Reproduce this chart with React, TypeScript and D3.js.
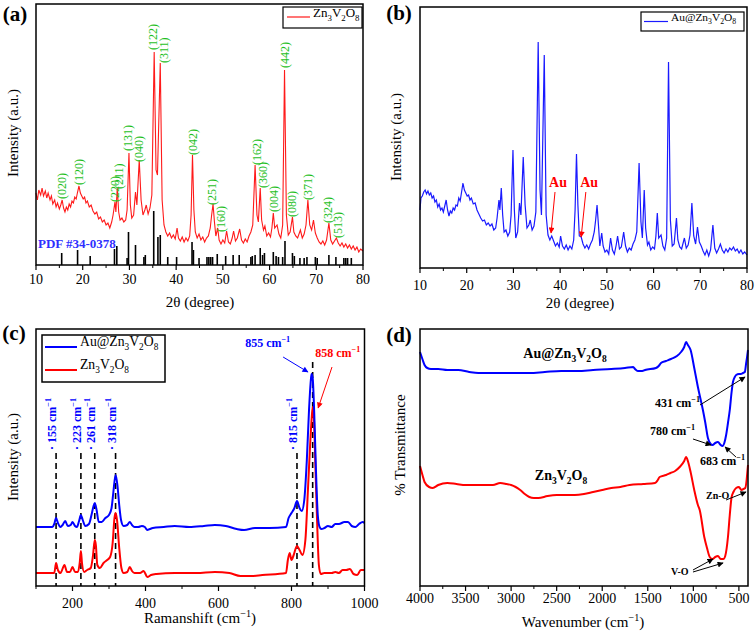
import React from 'react';
import * as d3 from 'd3';

const FONT = '"Liberation Serif","Times New Roman",Times,serif';

// ---------- Panel (a): Zn3V2O8 XRD (2θ, intensity a.u.) ----------
const xrdZn: [number, number][] = [
  [10.0, 72], [10.3, 65], [10.6, 75], [11.0, 70], [11.3, 77], [11.6, 69], [12.0, 74], [12.3, 67], [12.6, 72],
  [13.0, 65], [13.3, 69], [13.6, 61], [14.0, 65], [14.3, 58], [14.6, 62], [15.0, 56], [15.3, 60], [15.6, 65],
  [15.9, 57], [16.2, 53], [16.5, 58], [16.8, 55], [17.1, 61], [17.4, 58], [17.7, 64], [18.0, 62], [18.3, 68],
  [18.6, 66], [18.9, 73], [19.2, 79], [19.5, 72], [19.8, 69], [20.1, 66], [20.4, 68], [20.7, 62], [21.0, 64],
  [21.4, 58], [21.8, 60], [22.2, 54], [22.6, 51], [23.0, 53], [23.4, 46], [23.8, 48], [24.2, 43], [24.6, 45],
  [25.0, 40], [25.4, 42], [25.8, 37], [26.2, 43], [26.5, 50], [26.9, 63], [27.1, 53], [27.4, 77], [27.7, 53],
  [28.0, 45], [28.4, 47], [28.8, 43], [29.2, 45], [29.5, 55], [29.9, 112], [30.2, 60], [30.5, 47], [30.9, 50],
  [31.3, 73], [31.6, 60], [32.1, 105], [32.5, 65], [32.9, 50], [33.3, 55], [33.6, 60], [34.0, 51], [34.4, 57],
  [34.8, 70], [35.3, 213], [35.7, 95], [36.0, 90], [36.6, 202], [37.0, 65], [37.4, 40], [37.8, 33], [38.2, 29],
  [38.6, 32], [39.0, 27], [39.4, 30], [39.8, 26], [40.2, 37], [40.5, 27], [40.9, 24], [41.3, 28], [41.7, 23],
  [42.1, 27], [42.5, 24], [42.9, 29], [43.2, 50], [43.5, 110], [43.8, 55], [44.1, 33], [44.5, 27], [44.9, 31],
  [45.3, 25], [45.7, 28], [46.1, 23], [46.5, 27], [46.9, 29], [47.3, 37], [47.6, 50], [47.9, 61], [48.2, 43],
  [48.5, 29], [48.9, 37], [49.2, 25], [49.6, 21], [50.0, 25], [50.4, 22], [50.8, 34], [51.2, 23], [51.6, 21],
  [52.0, 27], [52.3, 34], [52.7, 24], [53.1, 27], [53.6, 36], [54.0, 25], [54.4, 22], [54.8, 26], [55.2, 23],
  [55.6, 29], [56.0, 33], [56.4, 40], [56.9, 100], [57.3, 50], [57.6, 43], [58.0, 77], [58.3, 45], [58.7, 35],
  [59.0, 39], [59.4, 29], [59.8, 32], [60.2, 28], [60.5, 37], [60.8, 52], [61.1, 37], [61.6, 40], [62.0, 31],
  [62.4, 27], [62.8, 40], [63.2, 195], [63.6, 50], [64.0, 30], [64.4, 33], [64.9, 48], [65.2, 33], [65.6, 29],
  [66.0, 27], [66.6, 35], [67.0, 27], [67.4, 31], [67.8, 40], [68.2, 65], [68.6, 40], [69.0, 35], [69.4, 45],
  [69.8, 32], [70.2, 27], [70.6, 23], [71.0, 21], [71.4, 24], [71.8, 20], [72.2, 25], [72.7, 42], [73.1, 25],
  [73.5, 21], [73.9, 24], [74.3, 27], [74.7, 22], [75.1, 19], [75.5, 22], [75.9, 18], [76.3, 21], [76.7, 17],
  [77.1, 20], [77.5, 16], [77.9, 19], [78.3, 15], [78.7, 18], [79.1, 13], [79.5, 16], [80.0, 14],
];

// PDF #34-0378 reference lines (2θ, relative height)
const pdfRef: [number, number][] = [
  [15.5, 12], [18.9, 15], [21.6, 9], [26.8, 16], [27.3, 19], [29.5, 7], [29.8, 33], [31.3, 20], [33.1, 8],
  [33.4, 10], [35.2, 54], [36.1, 28], [36.6, 30], [38.2, 8], [40.1, 8], [43.4, 23], [43.7, 15], [44.9, 7],
  [46.6, 8], [47.0, 8], [47.4, 8], [47.8, 8], [48.8, 11], [50.6, 9], [52.2, 10], [53.5, 10], [56.0, 8],
  [56.3, 9], [56.9, 10], [58.0, 17], [58.5, 10], [58.9, 12], [60.8, 13], [61.4, 9], [61.9, 8], [62.8, 8],
  [63.3, 24], [64.9, 12], [65.3, 9], [66.5, 7], [67.4, 7], [68.0, 8], [69.8, 8], [70.2, 7], [72.7, 10],
  [74.2, 8], [75.9, 7], [76.3, 7], [76.7, 7], [77.5, 7],
];

// hkl labels: [text, 2θ, intensity at label foot]
const hklLabels: [string, number, number][] = [
  ['(020)', 15.6, 66], ['(120)', 19.2, 80], ['(220)', 26.8, 63], ['(211)', 27.8, 76], ['(131)', 29.7, 114],
  ['(040)', 31.9, 103], ['(122)', 35.1, 215], ['(311)', 37.3, 202], ['(042)', 43.55, 110], ['(251)', 47.7, 60],
  ['(160)', 49.6, 33], ['(162)', 57.3, 100], ['(360)', 58.6, 77], ['(004)', 61.0, 53], ['(442)', 63.3, 197],
  ['(080)', 64.8, 48], ['(371)', 68.2, 65], ['(324)', 72.5, 42], ['(513)', 74.7, 27],
];

// ---------- Panel (b): Au@Zn3V2O8 XRD ----------
const xrdAu: [number, number][] = [
  [10.0, 58], [10.2, 70], [10.5, 72], [10.8, 76], [11.1, 78], [11.4, 74], [11.7, 77], [12.0, 73], [12.3, 75],
  [12.6, 70], [12.9, 72], [13.2, 66], [13.5, 68], [13.8, 61], [14.1, 64], [14.4, 58], [14.7, 60], [15.0, 56],
  [15.3, 62], [15.6, 68], [15.9, 58], [16.2, 52], [16.5, 57], [16.8, 55], [17.1, 60], [17.4, 58], [17.7, 63],
  [18.0, 62], [18.3, 70], [18.6, 67], [18.9, 76], [19.2, 85], [19.5, 78], [19.8, 75], [20.1, 72], [20.4, 73],
  [20.7, 68], [21.0, 70], [21.4, 64], [21.8, 65], [22.2, 58], [22.6, 54], [23.0, 50], [23.4, 47], [23.8, 48],
  [24.2, 43], [24.6, 45], [25.0, 42], [25.4, 44], [25.8, 38], [26.2, 40], [26.5, 50], [26.9, 68], [27.1, 58],
  [27.4, 80], [27.7, 53], [28.0, 36], [28.4, 38], [28.8, 32], [29.2, 36], [29.5, 53], [29.9, 118], [30.2, 58],
  [30.5, 30], [30.9, 36], [31.3, 65], [31.6, 53], [32.1, 111], [32.5, 63], [32.9, 40], [33.3, 43], [33.6, 48],
  [34.0, 38], [34.4, 42], [34.8, 56], [35.3, 226], [35.7, 78], [36.0, 53], [36.6, 213], [37.0, 53], [37.4, 33],
  [37.8, 28], [38.2, 32], [38.6, 27], [39.0, 22], [39.4, 25], [39.8, 21], [40.1, 32], [40.5, 22], [40.9, 19],
  [41.3, 23], [41.7, 18], [42.1, 22], [42.5, 19], [42.9, 28], [43.2, 58], [43.5, 114], [43.8, 63], [44.1, 32],
  [44.5, 31], [44.9, 24], [45.3, 20], [45.7, 23], [46.1, 19], [46.5, 24], [46.9, 28], [47.3, 36], [47.6, 48],
  [47.9, 63], [48.2, 43], [48.5, 22], [48.9, 35], [49.2, 22], [49.6, 16], [50.0, 18], [50.4, 14], [50.8, 30],
  [51.2, 18], [51.6, 14], [52.0, 23], [52.3, 32], [52.7, 19], [53.1, 21], [53.6, 36], [54.0, 22], [54.4, 16],
  [54.8, 20], [55.2, 18], [55.6, 24], [56.0, 28], [56.4, 36], [56.9, 105], [57.3, 46], [57.6, 30], [58.0, 78],
  [58.3, 40], [58.7, 23], [59.0, 26], [59.4, 18], [59.8, 21], [60.2, 19], [60.5, 32], [60.8, 55], [61.1, 30],
  [61.6, 33], [62.0, 22], [62.4, 18], [62.8, 30], [63.2, 206], [63.6, 48], [64.0, 22], [64.4, 24], [64.9, 50],
  [65.2, 28], [65.6, 21], [66.0, 19], [66.6, 30], [67.0, 20], [67.4, 23], [67.8, 33], [68.2, 65], [68.6, 32],
  [69.0, 24], [69.4, 41], [69.8, 26], [70.2, 22], [70.6, 17], [71.0, 13], [71.4, 18], [71.8, 12], [72.2, 18],
  [72.7, 43], [73.1, 20], [73.5, 15], [73.9, 19], [74.3, 24], [74.7, 18], [75.1, 15], [75.5, 19], [75.9, 16],
  [76.3, 20], [76.7, 18], [77.1, 21], [77.5, 17], [77.9, 19], [78.3, 15], [78.7, 18], [79.1, 14], [79.5, 16],
  [80.0, 13],
];
// Au markers: [label x, label y, arrow from x, from y, arrow to x, to y] in data units
const auMarks: [number, number, number, number, number, number][] = [
  [39.55, 86, 38.9, 76, 38.05, 35],
  [46.2, 86, 45.5, 76, 44.5, 31],
];

// ---------- Panel (c): Raman ----------
const ramanAu: [number, number][] = [
  [100, 59], [145, 59], [150, 62], [155, 68], [160, 63], [167, 59], [173, 61], [180, 65], [187, 60], [195, 61],
  [200, 64], [207, 60], [212, 59], [218, 65], [223, 71], [228, 66], [235, 60], [245, 62], [252, 71], [257, 79],
  [261, 83], [266, 76], [272, 64], [280, 64], [290, 68], [300, 71], [307, 78], [312, 94], [318, 111], [323, 101],
  [328, 81], [333, 66], [340, 60], [350, 61], [357, 64], [363, 61], [370, 59], [380, 59], [390, 60], [398, 59],
  [405, 56], [412, 57], [420, 58], [450, 59], [480, 60], [520, 59], [560, 60], [590, 61], [620, 60], [650, 57],
  [670, 56], [700, 58], [740, 58], [785, 59], [792, 68], [800, 73], [808, 78], [815, 85], [822, 78], [828, 75],
  [835, 86], [842, 126], [848, 176], [853, 206], [855, 212], [858, 208], [862, 176], [867, 116], [872, 71],
  [877, 59], [882, 57], [890, 58], [900, 60], [910, 59], [920, 62], [930, 62], [945, 64], [955, 64], [965, 60],
  [975, 59], [985, 62], [995, 64], [1000, 63],
];
const ramanZn: [number, number][] = [
  [100, 13], [150, 13], [155, 23], [160, 16], [167, 13], [178, 21], [185, 14], [193, 14], [200, 19], [207, 14],
  [215, 14], [220, 24], [223, 35], [226, 23], [232, 14], [240, 16], [250, 18], [256, 30], [261, 46], [264, 41],
  [268, 21], [275, 18], [285, 23], [295, 26], [303, 29], [310, 43], [315, 68], [318, 73], [322, 66], [328, 38],
  [334, 18], [340, 13], [350, 14], [357, 19], [363, 15], [370, 13], [385, 13], [395, 15], [405, 9], [415, 11],
  [430, 12], [480, 13], [540, 13], [590, 14], [630, 13], [660, 10], [690, 10], [720, 11], [785, 13], [790, 26],
  [795, 33], [800, 26], [806, 31], [815, 40], [822, 36], [830, 31], [838, 46], [845, 96], [851, 141], [855, 166],
  [858, 179], [861, 171], [865, 126], [870, 66], [875, 21], [880, 12], [890, 13], [910, 13], [920, 14], [930, 13],
  [940, 16], [950, 16], [960, 17], [970, 12], [980, 11], [990, 16], [1000, 16],
];
const ramanLines: [number, number][] = [[155, 133], [223, 133], [261, 133], [318, 133], [815, 133], [858, 224]];
const ramanLabels: [string, number, number][] = [
  ['155', 155, 136], ['223', 223, 136], ['261', 261, 136], ['318', 318, 136], ['815', 815, 136],
];

// ---------- Panel (d): FTIR ----------
const ftirAu: [number, number][] = [
  [4000, 234], [3970, 226], [3950, 221], [3920, 218], [3880, 217], [3800, 217], [3700, 216], [3580, 216],
  [3460, 214], [3360, 213], [3200, 213], [3000, 213], [2800, 213], [2630, 214], [2450, 215], [2270, 215],
  [2100, 216], [1900, 217], [1750, 218], [1660, 219], [1640, 217], [1610, 215], [1560, 215], [1530, 216],
  [1410, 218], [1380, 220], [1355, 223], [1300, 225], [1245, 227], [1180, 230], [1135, 234], [1100, 239],
  [1080, 244], [1060, 241], [1030, 236], [990, 218], [950, 199], [895, 176], [870, 164], [840, 148], [810, 142],
  [790, 141], [760, 143], [730, 144], [700, 141], [680, 140], [660, 143], [640, 151], [620, 163], [600, 176],
  [580, 194], [565, 204], [545, 209], [530, 211], [500, 212], [480, 212], [455, 213], [435, 214], [420, 223],
  [410, 229], [400, 236],
];
const ftirZn: [number, number][] = [
  [4000, 120], [3970, 110], [3950, 104], [3900, 99], [3860, 98], [3800, 101], [3700, 103], [3600, 102],
  [3500, 101], [3350, 101], [3200, 101], [3120, 103], [3050, 102], [3000, 101], [2950, 99], [2900, 96],
  [2850, 92], [2800, 89], [2750, 88], [2700, 88], [2600, 90], [2500, 91], [2300, 91], [2200, 92], [2100, 94],
  [2000, 96], [1900, 98], [1800, 99], [1700, 101], [1550, 102], [1420, 103], [1390, 106], [1370, 109],
  [1300, 111], [1250, 113], [1200, 115], [1150, 119], [1100, 125], [1080, 129], [1060, 125], [1030, 114],
  [990, 96], [950, 81], [930, 76], [880, 49], [850, 38], [820, 29], [790, 27], [760, 29], [730, 30], [700, 27],
  [670, 27], [650, 30], [620, 49], [600, 71], [580, 89], [560, 94], [530, 98], [500, 99], [490, 98], [470, 96],
  [450, 97], [430, 98], [415, 106], [405, 116], [400, 121],
];
// [text, x, y, fromX, fromY, toX, toY]
const ftirNotes: [string, number, number, number, number, number, number][] = [
  ['431 cm^{−1}', 1421, 179, 927, 181, 433, 209],
  ['780 cm^{−1}', 1476, 151, 1004, 147, 806, 141],
  ['683 cm^{−1}', 927, 121, 532, 129, 652, 139],
];

// Tick values
const xrdTicks = [10, 20, 30, 40, 50, 60, 70, 80];
const xrdMinor = [15, 25, 35, 45, 55, 65, 75];
const ramanTicks = [200, 400, 600, 800, 1000];
const ramanMinor = [100, 300, 500, 700, 900];
const ftirTicks = [4000, 3500, 3000, 2500, 2000, 1500, 1000, 500];
const ftirMinor = [3750, 3250, 2750, 2250, 1750, 1250, 750];

// ---------- helpers ----------
function Rich({ s, fs }: { s: string; fs: number }) {
  const segs: { t: string; m: number }[] = [];
  let i = 0;
  while (i < s.length) {
    const c = s[i];
    if (c === '_') {
      segs.push({ t: s[i + 1], m: 1 });
      i += 2;
    } else if (c === '^' && s[i + 1] === '{') {
      const j = s.indexOf('}', i);
      segs.push({ t: s.slice(i + 2, j), m: 2 });
      i = j + 1;
    } else {
      const last = segs[segs.length - 1];
      if (last && last.m === 0) last.t += c;
      else segs.push({ t: c, m: 0 });
      i++;
    }
  }
  const off = (m: number) => (m === 1 ? fs * 0.3 : m === 2 ? -fs * 0.42 : 0);
  let prev = 0;
  return (
    <>
      {segs.map((g, k) => {
        const dy = off(g.m) - prev;
        prev = off(g.m);
        return (
          <tspan key={k} dy={dy} fontSize={g.m ? fs * 0.68 : fs}>
            {g.t}
          </tspan>
        );
      })}
    </>
  );
}

type Scale = d3.ScaleLinear<number, number>;

function BottomAxis({ x, y0, ticks, minor, labelY }: { x: Scale; y0: number; ticks: number[]; minor: number[]; labelY: number }) {
  return (
    <g>
      {ticks.map((t) => (
        <line key={'M' + t} x1={x(t)} x2={x(t)} y1={y0} y2={y0 + 5} stroke="#000" strokeWidth={1.2} />
      ))}
      {minor.map((t) => (
        <line key={'m' + t} x1={x(t)} x2={x(t)} y1={y0} y2={y0 + 3} stroke="#000" strokeWidth={1} />
      ))}
      {ticks.map((t) => (
        <text key={'L' + t} x={x(t)} y={labelY} dy="0.35em" textAnchor="middle" fontSize={14}>
          {t}
        </text>
      ))}
    </g>
  );
}

function Frame({ x, y }: { x: Scale; y: Scale }) {
  const [x0, x1] = x.range();
  const [y0, y1] = y.range();
  return (
    <rect
      x={Math.min(x0, x1)}
      y={Math.min(y0, y1)}
      width={Math.abs(x1 - x0)}
      height={Math.abs(y1 - y0)}
      fill="none"
      stroke="#000"
      strokeWidth={1.5}
    />
  );
}

function VLabel({ x, y, s, fs }: { x: number; y: number; s: string; fs: number }) {
  return (
    <text transform={`translate(${x},${y}) rotate(-90)`} textAnchor="middle" dy="0.35em" fontSize={fs}>
      <Rich s={s} fs={fs} />
    </text>
  );
}

export default function App() {
  // scales
  const xA = d3.scaleLinear().domain([10, 80]).range([36, 363]);
  const yA = d3.scaleLinear().domain([0, 261]).range([265, 4]);
  const xB = d3.scaleLinear().domain([10, 80]).range([420, 747]);
  const yB = d3.scaleLinear().domain([0, 261]).range([268, 7]);
  const xC = d3.scaleLinear().domain([100, 1000]).range([36, 364.5]);
  const yC = d3.scaleLinear().domain([0, 257]).range([586, 329]);
  const xD = d3.scaleLinear().domain([4000, 400]).range([420, 748]);
  const yD = d3.scaleLinear().domain([0, 257]).range([586, 329]);

  const lineA = d3.line<[number, number]>().x((d) => xA(d[0])).y((d) => yA(d[1]));
  const lineB = d3.line<[number, number]>().x((d) => xB(d[0])).y((d) => yB(d[1]));
  const lineC = d3
    .line<[number, number]>()
    .x((d) => xC(d[0]))
    .y((d) => yC(d[1]))
    .curve(d3.curveMonotoneX);
  const lineD = d3
    .line<[number, number]>()
    .x((d) => xD(d[0]))
    .y((d) => yD(d[1]))
    .curve(d3.curveMonotoneX);

  const green = '#1fbf1f';
  const red = '#ff1a1a';
  const blue = '#1a1aff';

  return (
    <svg
      width={756}
      height={637}
      viewBox="0 0 756 637"
      style={{ position: 'absolute', left: 0, top: 0, background: '#fff' }}
      fontFamily={FONT}
    >
      <defs>
        {[
          ['arrK', '#000'],
          ['arrR', '#ff0000'],
          ['arrB', '#0000ff'],
        ].map(([id, c]) => (
          <marker
            key={id}
            id={id}
            viewBox="0 0 10 10"
            refX={9}
            refY={5}
            markerWidth={7}
            markerHeight={6}
            markerUnits="userSpaceOnUse"
            orient="auto"
          >
            <path d="M0,0 L10,5 L0,10 z" fill={c} />
          </marker>
        ))}
      </defs>
      <rect width={756} height={637} fill="#fff" />

      {/* ================= Panel (a) ================= */}
      <g>
        {pdfRef.map(([p, h], i) => (
          <line key={i} x1={xA(p)} x2={xA(p)} y1={yA(0)} y2={yA(h)} stroke="#000" strokeWidth={1.6} />
        ))}
        <path d={lineA(xrdZn) || ''} fill="none" stroke={red} strokeWidth={1.1} />
        {hklLabels.map(([t, p, v]) => (
          <text
            key={t}
            transform={`translate(${xA(p)},${yA(v)}) rotate(-90)`}
            dy="0.35em"
            fontSize={12}
            fill={green}
          >
            {t}
          </text>
        ))}
        <text x={38} y={248} fontSize={13} fontWeight="bold" fill="#2f2fff">
          PDF #34-0378
        </text>
        <Frame x={xA} y={yA} />
        <BottomAxis x={xA} y0={265} ticks={xrdTicks} minor={xrdMinor} labelY={279} />
        <text x={200} y={302} dy="0.35em" textAnchor="middle" fontSize={15}>
          2θ (degree)
        </text>
        <VLabel x={18} y={133} s="Intensity (a.u.)" fs={15} />
        <text x={15} y={14} dy="0.35em" textAnchor="middle" fontSize={21} fontWeight="bold">
          (a)
        </text>
        <rect x={283} y={7} width={79} height={21} fill="#fff" stroke="#000" strokeWidth={1.2} />
        <line x1={287} x2={310} y1={17} y2={17} stroke={red} strokeWidth={1.2} />
        <text x={313} y={17} dy="0.35em" fontSize={13}>
          <Rich s="Zn_3V_2O_8" fs={13} />
        </text>
      </g>

      {/* ================= Panel (b) ================= */}
      <g>
        <path d={lineB(xrdAu) || ''} fill="none" stroke={blue} strokeWidth={1.2} />
        {auMarks.map(([lx, ly, fx, fy, tx, ty], i) => (
          <g key={i}>
            <text x={xB(lx)} y={yB(ly)} dy="0.35em" textAnchor="middle" fontSize={14} fontWeight="bold" fill="#ff0000">
              Au
            </text>
            <line
              x1={xB(fx)}
              y1={yB(fy)}
              x2={xB(tx)}
              y2={yB(ty)}
              stroke="#ff0000"
              strokeWidth={1}
              markerEnd="url(#arrR)"
            />
          </g>
        ))}
        <Frame x={xB} y={yB} />
        <BottomAxis x={xB} y0={268} ticks={xrdTicks} minor={xrdMinor} labelY={285} />
        <text x={580} y={303} dy="0.35em" textAnchor="middle" fontSize={15}>
          2θ (degree)
        </text>
        <VLabel x={401} y={137} s="Intensity (a.u.)" fs={15} />
        <text x={399} y={13} dy="0.35em" textAnchor="middle" fontSize={21} fontWeight="bold">
          (b)
        </text>
        <rect x={641} y={12} width={103} height={19} fill="#fff" stroke="#000" strokeWidth={1.2} />
        <line x1={644} x2={668} y1={21.5} y2={21.5} stroke={blue} strokeWidth={1.2} />
        <text x={671} y={21} dy="0.35em" fontSize={11.4}>
          <Rich s="Au@Zn_3V_2O_8" fs={11.4} />
        </text>
      </g>

      {/* ================= Panel (c) ================= */}
      <g>
        {ramanLines.map(([p, top]) => (
          <line
            key={p}
            x1={xC(p)}
            x2={xC(p)}
            y1={yC(top)}
            y2={yC(0)}
            stroke="#000"
            strokeWidth={1.6}
            strokeDasharray="6,4"
          />
        ))}
        <path d={lineC(ramanZn) || ''} fill="none" stroke="#ff0000" strokeWidth={2} />
        <path d={lineC(ramanAu) || ''} fill="none" stroke="#0000ff" strokeWidth={2} />
        {ramanLabels.map(([t, p, v]) => (
          <text
            key={t}
            transform={`translate(${xC(p)},${yC(v)}) rotate(-90)`}
            dy="0.35em"
            fontSize={12}
            fontWeight="bold"
            fill="#0000ff"
          >
            <Rich s={'\u00B7 ' + t + ' cm^{−1}'} fs={12} />
          </text>
        ))}
        <text x={xC(673)} y={yC(239)} dy="0.35em" fontSize={12} fontWeight="bold" fill="#0000ff">
          <Rich s="855 cm^{−1}" fs={12} />
        </text>
        <line
          x1={xC(777)}
          y1={yC(229)}
          x2={xC(845)}
          y2={yC(214)}
          stroke="#0000ff"
          strokeWidth={1}
          markerEnd="url(#arrB)"
        />
        <text x={xC(865)} y={yC(229)} dy="0.35em" fontSize={12} fontWeight="bold" fill="#ff0000">
          <Rich s="858 cm^{−1}" fs={12} />
        </text>
        <line
          x1={xC(911)}
          y1={yC(219)}
          x2={xC(873)}
          y2={yC(178)}
          stroke="#ff0000"
          strokeWidth={1}
          markerEnd="url(#arrR)"
        />
        <Frame x={xC} y={yC} />
        <BottomAxis x={xC} y0={586} ticks={ramanTicks} minor={ramanMinor} labelY={603} />
        <text x={200} y={623} dy="0.35em" textAnchor="middle" fontSize={15}>
          <Rich s="Ramanshift (cm^{−1})" fs={15} />
        </text>
        <VLabel x={18} y={457} s="Intensity (a.u.)" fs={15} />
        <text x={14} y={333} dy="0.35em" textAnchor="middle" fontSize={21} fontWeight="bold">
          (c)
        </text>
        <rect x={42} y={335} width={123} height={47} fill="#fff" stroke="#000" strokeWidth={1.5} />
        <line x1={45} x2={77} y1={347} y2={347} stroke="#0000ff" strokeWidth={2} />
        <text x={80} y={346} dy="0.35em" fontSize={13.7}>
          <Rich s="Au@Zn_3V_2O_8" fs={13.7} />
        </text>
        <line x1={45} x2={77} y1={370} y2={370} stroke="#ff0000" strokeWidth={2} />
        <text x={80} y={369} dy="0.35em" fontSize={13.7}>
          <Rich s="Zn_3V_2O_8" fs={13.7} />
        </text>
      </g>

      {/* ================= Panel (d) ================= */}
      <g>
        <path d={lineD(ftirAu) || ''} fill="none" stroke="#0000ff" strokeWidth={2} />
        <path d={lineD(ftirZn) || ''} fill="none" stroke="#ff0000" strokeWidth={2} />
        <text x={xD(2408)} y={yD(228)} dy="0.35em" textAnchor="middle" fontSize={14} fontWeight="bold">
          <Rich s="Au@Zn_3V_2O_8" fs={14} />
        </text>
        <text x={xD(2452)} y={yD(106)} dy="0.35em" textAnchor="middle" fontSize={14} fontWeight="bold">
          <Rich s="Zn_3V_2O_8" fs={14} />
        </text>
        {ftirNotes.map(([t, lx, ly, fx, fy, tx, ty]) => (
          <g key={t}>
            <text x={xD(lx)} y={yD(ly)} dy="0.35em" fontSize={12} fontWeight="bold">
              <Rich s={t} fs={12} />
            </text>
            <line x1={xD(fx)} y1={yD(fy)} x2={xD(tx)} y2={yD(ty)} stroke="#000" strokeWidth={1} markerEnd="url(#arrK)" />
          </g>
        ))}
        <text x={xD(861)} y={yD(91)} dy="0.35em" fontSize={10} fontWeight="bold">
          Zn-O
        </text>
        <line x1={xD(641)} y1={yD(86)} x2={xD(422)} y2={yD(94)} stroke="#000" strokeWidth={1} markerEnd="url(#arrK)" />
        <text x={xD(1245)} y={yD(15)} dy="0.35em" fontSize={10} fontWeight="bold">
          V-O
        </text>
        <line x1={xD(1004)} y1={yD(16)} x2={xD(784)} y2={yD(27)} stroke="#000" strokeWidth={1} markerEnd="url(#arrK)" />
        <line x1={xD(1004)} y1={yD(14)} x2={xD(674)} y2={yD(23)} stroke="#000" strokeWidth={1} markerEnd="url(#arrK)" />
        <Frame x={xD} y={yD} />
        <BottomAxis x={xD} y0={586} ticks={ftirTicks} minor={ftirMinor} labelY={598} />
        <text x={583} y={627} dy="0.35em" textAnchor="middle" fontSize={15}>
          <Rich s="Wavenumber (cm^{−1})" fs={15} />
        </text>
        <VLabel x={405} y={445} s="% Transmittance" fs={15} />
        <text x={399} y={335} dy="0.35em" textAnchor="middle" fontSize={21} fontWeight="bold">
          (d)
        </text>
      </g>
    </svg>
  );
}
